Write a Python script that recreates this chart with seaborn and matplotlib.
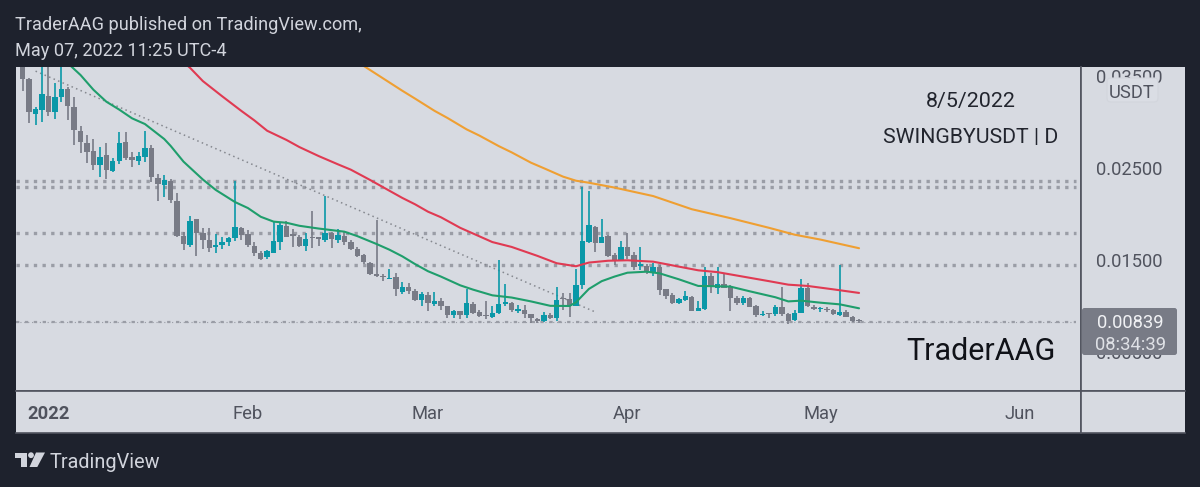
import matplotlib
matplotlib.use("Agg")
import matplotlib.pyplot as plt
import matplotlib.dates as mdates
from matplotlib.patches import FancyBboxPatch, Polygon, Circle
import numpy as np
import pandas as pd
import seaborn as sns

# prices are in 1e-5 USDT, one entry per daily candle from 2021-12-28
opens = [3700,3467,3087,3131,3283,3112,3268,3355,3167,2906,
         2775,2681,2529,2645,2471,2580,2783,2616,2580,2623,
         2718,2391,2315,2359,2145,1765,1663,1946,1797,1714,
         1638,1667,1692,1736,1844,1779,1652,1573,1529,1576,
         1696,1873,1779,1754,1652,1750,1747,1718,1797,1718,
         1765,1699,1616,1551,1471,1344,1330,1297,1312,1148,
         1210,1163,1061,1116,1025,1051,1000,898,945,898,
         1022,931,898,884,920,1022,1032,949,960,909,
         858,837,906,866,1090,1072,1003,1228,1699,1858,
         1688,1761,1551,1500,1637,1551,1435,1435,1373,1420,
         1181,1116,1029,1065,1101,945,971,1326,1195,1239,
         1210,1090,1036,1090,1000,898,920,909,985,916,
         848,927,1195,993,964,971,953,906,938,884,846]
highs = [3850,3475,3167,3800,3900,3420,3750,3384,3268,2957,
         2855,2815,2732,2768,2612,2895,2891,2674,2670,2906,
         2754,2431,2424,2377,2225,1808,1978,1946,1844,1844,
         1779,1754,1747,2359,1863,1826,1699,1594,1609,1910,
         1899,1928,1837,1772,1797,2029,1754,2196,1808,1833,
         1801,1718,1638,1565,1482,1935,1348,1399,1355,1257,
         1246,1181,1152,1148,1152,1087,1003,956,949,1181,
         1047,956,1058,1000,1500,1239,1043,1014,1007,909,
         873,938,927,1203,1137,1137,1402,2290,2250,1869,
         1942,1772,1572,1706,1790,1590,1637,1453,1464,1445,
         1181,1145,1083,1163,1108,1058,1427,1355,1427,1355,
         1228,1108,1108,1101,1014,945,927,1011,1203,927,
         956,1290,1246,1014,993,985,964,1445,956,891,855]
lows = [3341,2986,2967,2996,3069,3029,3221,3022,2747,2660,
        2558,2478,2399,2381,2457,2544,2587,2507,2529,2565,
        2348,2141,2181,2116,1754,1609,1645,1544,1620,1591,
        1573,1620,1652,1710,1718,1645,1544,1500,1507,1573,
        1609,1747,1645,1638,1602,1634,1652,1692,1634,1689,
        1660,1609,1536,1457,1341,1312,1276,1294,1113,1130,
        1130,1058,1003,942,1000,956,873,873,855,873,
        909,884,858,873,909,1000,931,927,866,811,
        811,822,855,840,956,884,1000,1188,1688,1590,
        1681,1536,1445,1493,1507,1391,1391,1348,1329,1116,
        1072,1018,1018,1058,945,942,956,1145,1130,1195,
        949,1014,1011,985,884,891,873,891,895,804,
        837,920,993,956,938,931,898,891,880,822,819]
closes = [3464,3112,3141,3304,3112,3268,3355,3174,2913,2779,
          2678,2529,2623,2475,2580,2775,2612,2591,2627,2714,
          2406,2330,2366,2152,1765,1678,1928,1797,1718,1627,
          1667,1699,1739,1855,1776,1663,1573,1507,1598,1703,
          1884,1754,1761,1652,1728,1736,1725,1790,1728,1776,
          1699,1616,1547,1478,1348,1326,1312,1308,1189,1210,
          1159,1065,1134,1036,1054,1000,898,945,898,1029,
          920,895,891,927,1018,1040,956,963,913,866,
          837,906,869,1069,1072,1003,1228,1710,1877,1688,
          1753,1543,1500,1637,1543,1427,1453,1380,1420,1174,
          1108,1029,1072,1108,949,978,1326,1203,1239,1199,
          1087,1036,1083,993,898,916,909,985,909,840,
          927,1195,1000,971,982,953,909,931,884,837,839]

# moving averages, read at some candles only (candle number, price)
green_days = [7,8,9,11,13,15,17,19,22,23,25,28,30,33,35,37,39,41,43,46,50,52,55,57,59,
              61,63,65,68,70,73,76,79,82,85,86,88,90,92,94,97,99,102,105,107,110,113,117,119,121,124,127,130]
green_vals = [3640,3575,3510,3350,3221,3135,3040,2978,2815,2740,2569,2375,2262,2130,2065,1970,1917,1905,1872,1842,1808,1760,1674,1612,1540,
              1455,1378,1320,1225,1178,1116,1092,1050,1002,1000,1040,1185,1270,1320,1362,1373,1355,1290,1218,1216,1211,1160,1095,1050,1058,1036,1018,975]
red_days = [25,26,28,31,34,36,38,41,43,46,49,51,54,59,61,63,65,68,73,76,80,83,86,88,91,94,98,102,105,108,112,116,119,122,126,130]
red_vals = [3650,3590,3445,3280,3120,3018,2905,2805,2728,2630,2540,2482,2370,2175,2105,2025,1965,1850,1695,1642,1545,1465,1432,1472,1492,1497,1482,1428,1388,1368,1319,1270,1232,1218,1181,1142]
orange_days = [52,53,56,59,61,64,66,69,71,74,76,79,81,84,86,88,92,98,104,110,116,120,124,130]
orange_vals = [3660,3610,3475,3340,3254,3122,3045,2920,2852,2738,2670,2558,2498,2406,2362,2340,2287,2195,2052,1955,1850,1775,1722,1628]

trend_days = [2, 89]
trend_vals = [3553, 935]
level_vals = [2355, 2297, 1797, 1449]
support_val = 830

price_ticks = [3500, 2500, 1500, 500]
price_labels = ["0.03500", "0.02500", "0.01500", "0.00500"]
month_dates = ["2022-01-01", "2022-02-01", "2022-03-01", "2022-04-01", "2022-05-01", "2022-06-01"]
month_labels = ["2022", "Feb", "Mar", "Apr", "May", "Jun"]

BG = "#1e222d"
PANEL = "#d7dae1"
TEAL = "#0a98a8"
GRAY = "#787b86"
AXIS = "#50535e"
UNIT = 1e-5
W, H = 1200, 487

sns.set_theme(style="white")
plt.rcParams["font.family"] = ["Roboto", "DejaVu Sans"]

start = pd.Timestamp("2021-12-28")
dates = pd.date_range(start, periods=len(opens), freq="D")
t0 = mdates.date2num(start)


def px_axes(fig, l, t, r, b, edges=()):
    a = fig.add_axes([l / W, 1 - b / H, (r - l) / W, (b - t) / H])
    a.set_facecolor(PANEL)
    for name, s in a.spines.items():
        s.set_visible(name in edges)
        s.set_color(AXIS)
        s.set_linewidth(1.2)
    return a


fig = plt.figure(figsize=(12, 4.87), dpi=100, facecolor=BG)
ax = px_axes(fig, 15.5, 67, 1081, 391, ("right", "bottom"))
ax_r = px_axes(fig, 1081, 67, 1185, 391, ("left", "bottom"))
ax_x = px_axes(fig, 15.5, 391, 1081, 433, ("right", "top", "bottom"))
ax_c = px_axes(fig, 1081, 391, 1185, 433, ("left", "top", "bottom"))

o = np.array(opens) * UNIT
h = np.array(highs) * UNIT
l = np.array(lows) * UNIT
c = np.array(closes) * UNIT
cols = [TEAL if b >= a else GRAY for a, b in zip(o, c)]

# horizontal levels
end_x = t0 + 163.7
ax.hlines(np.array(level_vals) * UNIT, t0 - 1.1, end_x, colors="#9a9da6", lw=2.4, linestyles=(0, (1, 1.6)), zorder=1)
ax.hlines(support_val * UNIT, t0 - 1.1, end_x, colors="#9a9da6", lw=1.6, linestyles=(0, (1.5, 2.5)), zorder=1)
ax.hlines(support_val * UNIT, t0 - 1.1, end_x, colors="#9a9da6", lw=0.8, linestyles=(0, (1, 2.5)), zorder=1)

# trend line
sns.lineplot(x=t0 + np.array(trend_days), y=np.array(trend_vals) * UNIT, ax=ax, color="#85888f",
             lw=1.1, linestyle=(0, (1, 2.2)), zorder=2, legend=False)

# candles
x = mdates.date2num(dates)
ax.vlines(x, l, h, colors=cols, lw=1.2, zorder=3)
ax.bar(x, np.maximum(np.abs(c - o), 0.00002), bottom=np.minimum(o, c), width=0.84, color=cols, linewidth=0, zorder=4)

# moving averages
for days, vals, col in [(green_days, green_vals, "#1f9e6c"),
                        (red_days, red_vals, "#e03a52"),
                        (orange_days, orange_vals, "#ef9f32")]:
    sns.lineplot(x=t0 + np.array(days), y=np.array(vals) * UNIT, ax=ax, color=col, lw=1.5, zorder=5, legend=False)

y0, y1 = 0.00076, 0.03598
ax.set_xlim(t0 - 1.12, t0 + 164.5)
ax.set_ylim(y0, y1)
ax.set_xticks([])
ax.set_yticks([])
ax.set_xlabel("")
ax.set_ylabel("")

ax_r.set_ylim(y0, y1)
ax_r.set_xticks([])
ax_r.set_yticks([])
for v, lab in zip(price_ticks, price_labels):
    ax_r.annotate(lab, (0.466, v * UNIT), xycoords=ax_r.get_yaxis_transform(), xytext=(0, -1.2),
                  textcoords="offset points", ha="center", va="center", fontsize=13.2, color=AXIS)

ax_x.set_xlim(ax.get_xlim())
ax_x.set_yticks([])
ax_x.set_xticks(mdates.date2num(pd.to_datetime(month_dates)))
ax_x.set_xticklabels(month_labels)
ax_x.tick_params(axis="x", length=0, pad=-20.5, labelsize=13.2, labelcolor=AXIS)
ax_x.get_xticklabels()[0].set_fontweight("bold")
ax_c.set_xticks([])
ax_c.set_yticks([])

# pixel overlay for annotations
ov = fig.add_axes([0, 0, 1, 1], zorder=10)
ov.set_xlim(0, W)
ov.set_ylim(H, 0)
ov.axis("off")

ov.add_patch(FancyBboxPatch((1107, 78), 51, 24, boxstyle="round,pad=0,rounding_size=4", fc="#dadde4", ec="#d2d5dc", lw=0.8))
ov.text(1132, 92.5, "USDT", ha="center", va="center", fontsize=13.2, color=AXIS)
ov.add_patch(FancyBboxPatch((1082, 308), 95, 47, boxstyle="round,pad=0,rounding_size=2.5", fc=GRAY, ec="none"))
ov.text(1130, 322.5, "0.00839", ha="center", va="center", fontsize=13.2, color="#f0f1f4")
ov.text(1131, 344.5, "08:34:39", ha="center", va="center", fontsize=13.2, color="#dfe1e6")

ov.text(970.5, 101.5, "8/5/2022", ha="center", va="center", fontsize=15.4, color="#22252e")
ov.text(971, 137.5, "SWINGBYUSDT | D", ha="center", va="center", fontsize=15.3, color="#22252e")
ov.text(981, 351.5, "TraderAAG", ha="center", va="center", fontsize=22, color="#101218")

ov.text(15, 25.5, "TraderAAG published on TradingView.com,", ha="left", va="center", fontsize=13.1, color="#d1d4dc")
ov.text(15, 51.5, "May 07, 2022 11:25 UTC-4", ha="left", va="center", fontsize=13.1, color="#d1d4dc")
ov.text(50, 462, "TradingView", ha="left", va="center", fontsize=14.3, color="#d1d4dc")

# logo
LOGO = "#d1d4dc"
ov.add_patch(Polygon([(15.3, 452.5), (27.3, 452.5), (27.3, 467), (20.7, 467), (20.7, 458.3), (15.3, 458.3)], fc=LOGO, ec="none"))
ov.add_patch(Circle((31, 455.2), 2.9, fc=LOGO, ec="none"))
ov.add_patch(Polygon([(36, 452.5), (45, 452.5), (37.3, 467), (29.5, 467)], fc=LOGO, ec="none"))

plt.savefig("out.png", dpi=100, facecolor=BG)
